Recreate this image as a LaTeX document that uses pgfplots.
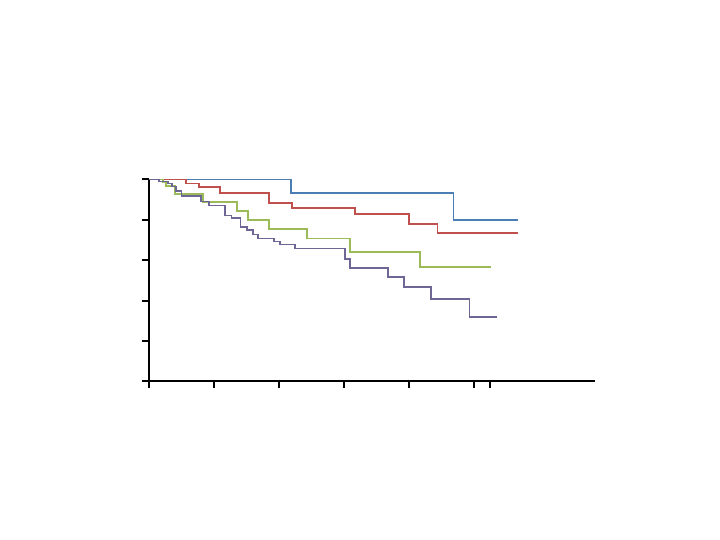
\documentclass[border=0pt]{standalone}
\usepackage{pgfplots}
\pgfplotsset{compat=1.18}
\definecolor{cblue}{HTML}{4A7EB5}
\definecolor{cred}{HTML}{C0504D}
\definecolor{cgreen}{HTML}{9BBB59}
\definecolor{cpurple}{HTML}{6E6694}
\begin{document}
\begin{tikzpicture}
\path[use as bounding box] (0,0) rectangle (360pt,270pt);
\begin{axis}[
  at={(74.5pt,79.25pt)}, anchor=south west,
  scale only axis, width=223pt, height=101pt,
  xmin=0, xmax=82.3, ymin=0, ymax=1,
  axis lines=left,
  axis line style={-, line width=1pt, black},
  tick style={black, line width=1pt},
  tick align=outside, major tick length=3.5pt,
  xtick={0,12,24,36,48,60,63}, ytick={0,0.2,0.4,0.6,0.8,1},
  xticklabels={}, yticklabels={},
  clip=false,
  every axis plot/.append style={const plot, line width=0.9pt, no marks},
]
\addplot[cblue] coordinates {(0,1.0) (26.16,0.935) (56.18,0.800) (68.07,0.800)};
\addplot[cred] coordinates {(0,1.0) (6.83,0.980) (9.29,0.961) (13.11,0.932) (22.15,0.884) (26.35,0.859) (38.03,0.828) (48.0,0.781) (53.23,0.737) (68.18,0.737)};
\addplot[cgreen] coordinates {(0,1.0) (2.58,0.988) (3.14,0.968) (4.8,0.928) (10.02,0.887) (16.19,0.844) (18.22,0.800) (22.15,0.755) (29.11,0.708) (37.11,0.643) (50.03,0.565) (63.14,0.565)};
\addplot[cpurple] coordinates {(0,1.0) (1.85,0.990) (3.51,0.980) (4.25,0.965) (4.98,0.943) (6.0,0.918) (9.6,0.891) (11.08,0.871) (14.03,0.822) (15.23,0.809) (16.89,0.765) (18.09,0.748) (19.2,0.728) (20.12,0.708) (23.08,0.693) (24.18,0.678) (26.95,0.658) (36.18,0.605) (37.11,0.563) (44.12,0.519) (47.08,0.469) (52.0,0.407) (59.13,0.321) (64.19,0.321)};
\end{axis}
\end{tikzpicture}
\end{document}
